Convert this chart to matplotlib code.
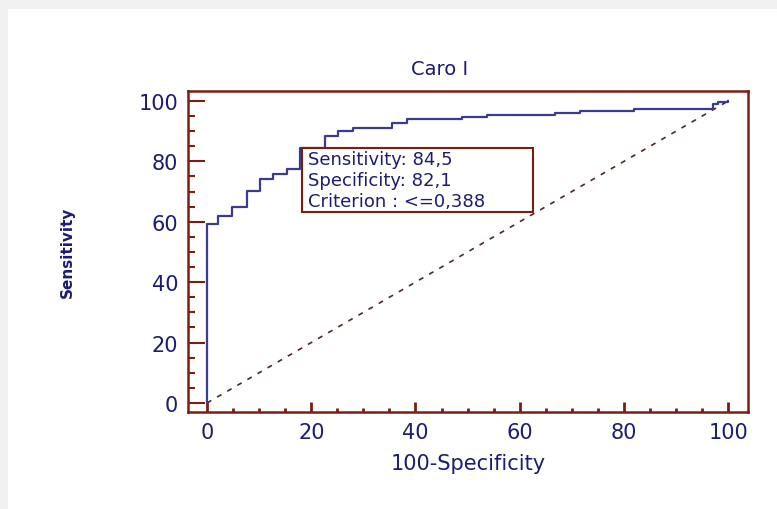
import matplotlib
matplotlib.use('Agg')
import matplotlib.pyplot as plt
from matplotlib.patches import Rectangle

# ROC corner points (100-specificity, sensitivity)
fpr = [0, 0, 2.2, 4.7, 7.6, 10.2, 12.7, 15.3, 17.9, 22.6, 25.1, 28.0, 35.5, 38.4,
       48.9, 53.7, 66.8, 71.6, 82.0, 97.1, 98.0, 100]
tpr = [0, 59.3, 62.0, 64.8, 70.3, 74.2, 75.8, 77.5, 84.5, 88.4, 90.0, 91.0, 92.7, 94.0,
       94.8, 95.5, 96.1, 96.7, 97.3, 99.0, 99.8, 100]
diag = [0, 100]
ticks = [0, 20, 40, 60, 80, 100]
title = 'Caro I'
info = ['Sensitivity: 84,5', 'Specificity: 82,1', 'Criterion : <=0,388']

navy = '#1c1c70'
red = '#7a1e12'

fig = plt.figure(figsize=(7.77, 5.10), dpi=100)
fig.patch.set_facecolor('#f0f0f0')
fig.add_artist(Rectangle((8 / 777, 0), 769 / 777, 500 / 510, transform=fig.transFigure,
                         facecolor='white', edgecolor='none', zorder=-10))

ax = fig.add_axes([188 / 777, 97 / 510, 560 / 777, 321 / 510])
ax.set_facecolor('white')

ax.plot(diag, diag, color='#4a2a20', lw=1.2, ls=(0, (3, 4)))
ax.step(fpr, tpr, where='post', color='#3b3b8f', lw=1.6)

ax.set_xlim(-3.65, 103.8)
ax.set_ylim(-3.0, 103.3)
ax.set_xticks(ticks)
ax.set_yticks(ticks)
ax.set_xticks(range(0, 101, 5), minor=True)
ax.set_yticks(range(0, 101, 5), minor=True)

for s in ax.spines.values():
    s.set_color(red)
    s.set_linewidth(1.8)

ax.tick_params(axis='x', which='major', direction='in', length=7, width=2, color=red,
               labelsize=15, labelcolor=navy, pad=7)
ax.tick_params(axis='x', which='minor', direction='in', length=3, width=2, color=red)
ax.tick_params(axis='y', which='major', direction='in', length=12, width=1.5, color=red,
               labelsize=15, labelcolor=navy, pad=7)
ax.tick_params(axis='y', which='minor', direction='in', length=5, width=1.5, color=red)

ax.text(0.45, 1.04, title, transform=ax.transAxes, ha='center', va='bottom',
        fontsize=14, color=navy)
ax.set_xlabel('100-Specificity', fontsize=15, color=navy, labelpad=8)
ax.text(-0.215, 0.5, 'Sensitivity', transform=ax.transAxes, rotation=90,
        ha='center', va='center', fontsize=11, color=navy, fontweight='bold')

# info box
ax.add_patch(Rectangle((18.2, 63.2), 44.4, 21.2, facecolor='white', edgecolor=red,
                       lw=1.5, zorder=4))
ax.text(19.3, 73.8, '\n'.join(info), ha='left', va='center', fontsize=13, color=navy,
        linespacing=1.22, zorder=5)

fig.savefig('out.png', dpi=100, facecolor=fig.get_facecolor())
